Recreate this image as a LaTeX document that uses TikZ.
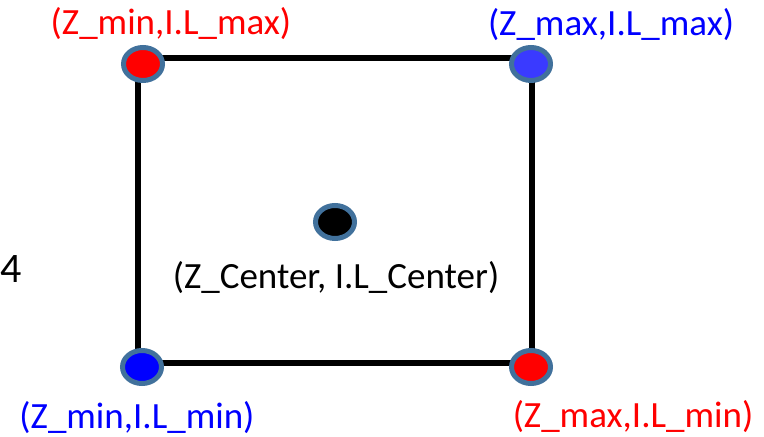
\documentclass[tikz,border=0pt]{standalone}
\usepackage{fontspec}
\setmainfont{Carlito}
\usetikzlibrary{shapes.geometric}
\definecolor{rim}{HTML}{41719C}
\definecolor{lightblue}{HTML}{3A3AFF}
\tikzset{
  dot/.style={ellipse,draw=rim,line width=2.5pt,minimum width=19.5pt,minimum height=16.5pt,inner sep=0pt},
  lbl/.style={font=\fontsize{18.5}{22}\selectfont,inner sep=0pt,anchor=base},
  edge/.style={line width=2.6pt}
}
\begin{document}
\begin{tikzpicture}[x=0.5pt,y=-0.5pt]
  \useasboundingbox (0,0) rectangle (764,437);
  % square
  \coordinate (tl) at (138,58);
  \coordinate (tr) at (532,58);
  \coordinate (bl) at (138,363);
  \coordinate (br) at (532,363);
  \draw[edge] (tl) -- (tr) -- (br) -- (bl) -- cycle;
  % corner points
  \node[dot,fill=red] (zminmax) at (143,64) {};
  \node[dot,fill=lightblue] (zmaxmax) at (531,64) {};
  \node[dot,fill=blue] (zminmin) at (142,367) {};
  \node[dot,fill=red] (zmaxmin) at (531,367) {};
  \node[dot,fill=black] (center) at (335,222) {};
  % labels
  \node[lbl,text=red] (lminmax) at (171,35) {(Z\_min,I.L\_max)};
  \node[lbl,text=blue] (lmaxmax) at (611,36) {(Z\_max,I.L\_max)};
  \node[lbl] (lcenter) at (336,289) {(Z\_Center, I.L\_Center)};
  \node[lbl,text=blue] (lminmin) at (137,428) {(Z\_min,I.L\_min)};
  \node[lbl,text=red] (lmaxmin) at (633,427) {(Z\_max,I.L\_min)};
  \node[lbl,font=\fontsize{21}{24}\selectfont] (four) at (11,283) {4};
\end{tikzpicture}
\end{document}
